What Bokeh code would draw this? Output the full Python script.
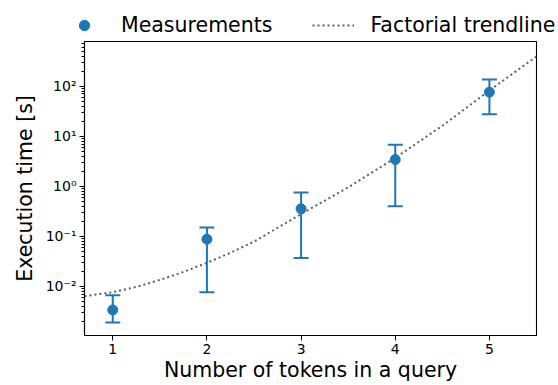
from bokeh.plotting import figure
from bokeh.layouts import column
from bokeh.models import ColumnDataSource, FixedTicker, Legend, LegendItem, Range1d
from bokeh.embed import file_html
from bokeh.resources import INLINE

# ---- data ----
tokens = [1, 2, 3, 4, 5]
time_mean = [0.0034, 0.088, 0.356, 3.42, 76.0]
time_lower = [0.0019, 0.0077, 0.037, 0.40, 27.6]
time_upper = [0.0067, 0.151, 0.75, 6.8, 136.0]

trend_x = [0.7, 1.0, 1.25, 1.5, 1.75, 2.0, 2.25, 2.5, 2.75, 3.0, 3.5, 4.0, 4.5, 5.0, 5.5]
trend_y = [0.0064, 0.0077, 0.0098, 0.0135, 0.0195, 0.0297, 0.047, 0.079, 0.148,
           0.28, 0.95, 3.7, 16.2, 82.0, 392.0]

y_major = [0.01, 0.1, 1, 10, 100]
y_labels = ["10\u207b\u00b2", "10\u207b\u00b9", "10\u2070", "10\u00b9", "10\u00b2"]
x_ticks = [1, 2, 3, 4, 5]

BLUE = "#1f77b4"
GREY = "#5f5f5f"
FONT = "DejaVu Sans"

# ---------------- main plot ----------------
p = figure(frame_width=452, frame_height=294, y_axis_type="log",
           x_range=Range1d(0.7, 5.5), y_range=Range1d(0.00105, 780),
           output_backend="svg", toolbar_location=None,
           min_border_left=84, min_border_right=22, min_border_top=1, min_border_bottom=50)
p.frame_align = False
p.background_fill_color = "white"
p.border_fill_color = "white"
p.outline_line_color = "black"
p.outline_line_width = 1.1
p.xgrid.grid_line_color = None
p.ygrid.grid_line_color = None

src = ColumnDataSource(dict(x=tokens, y=time_mean, lo=time_lower, hi=time_upper))
tsrc = ColumnDataSource(dict(x=trend_x, y=trend_y))

p.line("x", "y", source=tsrc, line_color=GREY, line_width=2, line_dash="2 3")
p.segment("x", "lo", "x", "hi", source=src, line_color=BLUE, line_width=2)
p.scatter("x", "lo", source=src, marker="dash", size=15, line_color=BLUE, line_width=2)
p.scatter("x", "hi", source=src, marker="dash", size=15, line_color=BLUE, line_width=2)
p.scatter("x", "y", source=src, marker="circle", size=10, fill_color=BLUE, line_color=BLUE)

minor = []
for e in range(-3, 3):
    for m in range(2, 10):
        minor.append(m * 10.0 ** e)
p.yaxis.ticker = FixedTicker(ticks=y_major, minor_ticks=minor)
p.yaxis.major_label_overrides = {v: l for v, l in zip(y_major, y_labels)}
p.xaxis.ticker = FixedTicker(ticks=x_ticks)

for ax in (p.xaxis, p.yaxis):
    ax.axis_line_color = "black"
    ax.axis_line_width = 1.1
    ax.major_tick_line_color = "black"
    ax.major_tick_in = 0
    ax.major_tick_out = 5
    ax.minor_tick_in = 0
    ax.minor_tick_out = 3
    ax.major_label_text_font = FONT
    ax.major_label_text_font_size = "14px"
    ax.major_label_text_color = "black"
    ax.axis_label_text_font = FONT
    ax.axis_label_text_font_size = "20.5px"
    ax.axis_label_text_font_style = "normal"
    ax.axis_label_text_color = "black"
p.xaxis.minor_tick_line_color = None
p.xaxis.axis_label = "Number of tokens in a query"
p.yaxis.axis_label = "Execution time [s]"
p.xaxis.axis_label_standoff = 1
p.yaxis.axis_label_standoff = 6
p.yaxis.major_label_standoff = 3
p.xaxis.major_label_standoff = 3

# ---------------- legend strip above the plot ----------------
lg = figure(width=558, height=40, x_range=Range1d(0, 1), y_range=Range1d(0, 1),
            output_backend="svg", toolbar_location=None,
            x_axis_location=None, y_axis_location=None,
            min_border_left=0, min_border_right=0, min_border_top=0, min_border_bottom=0)
lg.frame_align = False
lg.outline_line_color = None
lg.xgrid.grid_line_color = None
lg.ygrid.grid_line_color = None
# legend-only renderers: their single point lies outside the visible strip
meas_r = lg.scatter("x", "y", source=ColumnDataSource(dict(x=[-9], y=[-9])), marker="circle",
                    size=10, fill_color=BLUE, line_color=BLUE)
trend_r = lg.line("x", "y", source=ColumnDataSource(dict(x=[-9, -8], y=[-9, -9])),
                  line_color=GREY, line_width=2, line_dash="2 3")

legend = Legend(items=[LegendItem(label="Measurements", renderers=[meas_r]),
                       LegendItem(label="Factorial trendline", renderers=[trend_r])],
                location=(63, 2), orientation="horizontal",
                glyph_width=42, glyph_height=26, label_standoff=16, spacing=40,
                padding=0, margin=0, border_line_color=None,
                background_fill_alpha=0,
                label_text_font=FONT, label_text_font_size="20.5px", label_text_color="black")
lg.add_layout(legend, "center")

open("out.html", "w").write(file_html(column(lg, p, spacing=0), INLINE))
